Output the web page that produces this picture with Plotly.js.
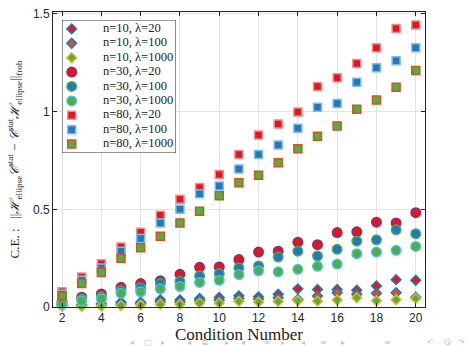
<!DOCTYPE html>
<html>
<head>
<meta charset="utf-8">
<script src="https://cdn.plot.ly/plotly-3.0.1.min.js"></script>
<style>html,body{margin:0;padding:0;background:#fff;}#chart{width:469px;height:346px;}</style>
</head>
<body>
<div id="chart"></div>
<script>
var conditionNumber = [2,3,4,5,6,7,8,9,10,11,12,13,14,15,16,17,18,19,20];

var n10_l20   = [0.012,0.010,0.017,0.024,0.024,0.037,0.036,0.044,0.049,0.057,0.052,0.065,0.093,0.090,0.090,0.086,0.108,0.140,0.137];
var n10_l100  = [0.008,0.006,0.010,0.014,0.016,0.026,0.024,0.033,0.036,0.044,0.040,0.047,0.039,0.056,0.073,0.065,0.070,0.073,0.050];
var n10_l1000 = [0.004,0.003,0.005,0.008,0.010,0.014,0.014,0.020,0.020,0.029,0.025,0.028,0.032,0.030,0.036,0.047,0.032,0.037,0.044];

var n30_l20   = [0.025,0.050,0.067,0.101,0.120,0.134,0.167,0.203,0.205,0.243,0.281,0.286,0.332,0.319,0.381,0.385,0.434,0.430,0.483];
var n30_l100  = [0.020,0.040,0.052,0.084,0.099,0.120,0.131,0.159,0.171,0.200,0.210,0.256,0.286,0.261,0.295,0.337,0.344,0.395,0.375];
var n30_l1000 = [0.015,0.032,0.042,0.070,0.078,0.093,0.105,0.126,0.137,0.166,0.185,0.180,0.193,0.208,0.220,0.273,0.281,0.290,0.310];

var n80_l20   = [0.078,0.154,0.222,0.307,0.382,0.469,0.551,0.612,0.678,0.780,0.880,0.937,0.998,1.129,1.173,1.247,1.327,1.425,1.444];
var n80_l100  = [0.065,0.137,0.200,0.286,0.350,0.430,0.500,0.580,0.619,0.706,0.780,0.829,0.915,1.023,1.042,1.151,1.225,1.261,1.327];
var n80_l1000 = [0.056,0.120,0.176,0.250,0.303,0.362,0.430,0.490,0.569,0.636,0.675,0.739,0.810,0.874,0.927,1.012,1.059,1.125,1.211];

var seriesNames = ['n=10, λ=20','n=10, λ=100','n=10, λ=1000',
                   'n=30, λ=20','n=30, λ=100','n=30, λ=1000',
                   'n=80, λ=20','n=80, λ=100','n=80, λ=1000'];
var seriesValues = [n10_l20,n10_l100,n10_l1000,n30_l20,n30_l100,n30_l1000,n80_l20,n80_l100,n80_l1000];

var xTickVals = [2,4,6,8,10,12,14,16,18,20];
var yTickVals = [0,0.5,1,1.5];
var yTickText = ['0','0.5','1','1.5'];

var RED='#e3161c', BLUE='#2277bd', GREEN='#4daf4a', PURPLE='#7e2f8e', CYAN='#4dbeee',
    YELLOW='#edb120', ORANGE='#d95319';
var styles = [
  {symbol:'diamond', size:7.5, color:RED,    line:BLUE},
  {symbol:'diamond', size:7.5, color:ORANGE, line:BLUE},
  {symbol:'diamond', size:7.5, color:GREEN,  line:YELLOW},
  {symbol:'circle',  size:9.5, color:RED,    line:PURPLE},
  {symbol:'circle',  size:9.5, color:BLUE,   line:GREEN},
  {symbol:'circle',  size:9.5, color:GREEN,  line:CYAN},
  {symbol:'square',  size:8,   color:RED,    line:'#ec8f94'},
  {symbol:'square',  size:8,   color:BLUE,   line:'#7fbbe8'},
  {symbol:'square',  size:8,   color:GREEN,  line:ORANGE}
];
function markerOf(s){ return {symbol:s.symbol, size:s.size, color:s.color, line:{color:s.line, width:1.5}}; }

var traces = seriesValues.map(function(v,i){
  return {
    type:'scatter', mode:'markers', name:seriesNames[i], showlegend:false,
    x:conditionNumber, y:v, cliponaxis:false, marker:markerOf(styles[i])
  };
});

// legend box drawn on its own small axes (x2/y2): entry i sits at y = i
var legendXRange = [0,114], legendYRange = [8.62,-0.62];
var legendIndex = seriesNames.map(function(_, i){ return i; });
seriesNames.forEach(function(nm, i){
  traces.push({type:'scatter', mode:'markers', xaxis:'x2', yaxis:'y2', showlegend:false,
               x:[9.7], y:[legendIndex[i]], marker:markerOf(styles[i]), cliponaxis:false, hoverinfo:'skip'});
});
traces.push({type:'scatter', mode:'text', xaxis:'x2', yaxis:'y2', showlegend:false,
             x:legendIndex.map(function(){ return 41; }), y:legendIndex, text:seriesNames,
             textposition:'middle right', cliponaxis:false, hoverinfo:'skip',
             textfont:{family:'Liberation Serif', size:12.5, color:'#222'}});

var navGlyphs = ['◂','□','▸','◂','⧉','▸','◂','≡','▸','◂','≡','▸','≡','↶','ⵕ','↷'];
var navX = [132,148,163,189,205,227,243,267,283,303,323,343,387,430,447,462];
var annotations = navGlyphs.map(function(g,i){
  return {xref:'paper', yref:'paper', x:(navX[i]-53)/372, y:-(342-307)/295,
          text:g, showarrow:false, xanchor:'center', yanchor:'middle',
          font:{family:'DejaVu Sans', size:8, color:'#c4c4cc'}};
});

var yTitle = 'C.E. :   ||<i>ℋ</i><sub>ellipse</sub><i>𝒞</i><sup>stat</sup> − <i>𝒞</i><sup>stat</sup><i>ℋ</i><sub>ellipse</sub>||<sub>frob</sub>';

var layout = {
  width:469, height:346,
  margin:{l:53, r:44, t:12, b:39, pad:0},
  paper_bgcolor:'#fff', plot_bgcolor:'#fff',
  showlegend:false,
  xaxis:{range:[1.54,20.47], tickvals:xTickVals, ticks:'inside', ticklen:4, tickcolor:'#262626',
         showline:true, linecolor:'#262626', linewidth:1, mirror:'ticks',
         showgrid:true, gridcolor:'#e4e4e4', gridwidth:1, zeroline:false,
         tickfont:{family:'Liberation Sans, Arial, sans-serif', size:12, color:'#262626'},
         title:{text:'Condition Number', standoff:2,
                font:{family:'Liberation Serif, Times New Roman, serif', size:17, color:'#222'}}},
  yaxis:{range:[0,1.51], tickvals:yTickVals, ticktext:yTickText, ticks:'inside', ticklen:4, tickcolor:'#262626',
         showline:true, linecolor:'#262626', linewidth:1, mirror:'ticks',
         showgrid:true, gridcolor:'#e4e4e4', gridwidth:1, zeroline:false,
         tickfont:{family:'Liberation Sans, Arial, sans-serif', size:12, color:'#262626'},
         title:{text:yTitle, standoff:10,
                font:{family:'Liberation Serif, DejaVu Serif, serif', size:13, color:'#222'}}},
  xaxis2:{domain:[0.0242,0.3306], range:legendXRange, anchor:'y2', visible:false, fixedrange:true},
  yaxis2:{domain:[0.522,0.973], range:legendYRange, anchor:'x2', visible:false, fixedrange:true},
  shapes:[{type:'rect', xref:'x2', yref:'y2', x0:legendXRange[0], x1:legendXRange[1],
           y0:legendYRange[0], y1:legendYRange[1],
           layer:'below', fillcolor:'#ffffff', line:{color:'#262626', width:1}}],
  annotations:annotations
};

Plotly.newPlot('chart', traces, layout, {staticPlot:true, displayModeBar:false});
</script>
</body>
</html>
